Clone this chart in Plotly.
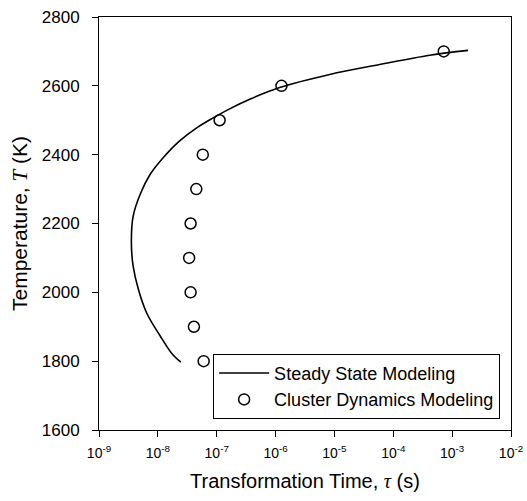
import plotly.graph_objects as go

# Steady state modeling curve (temperature K, log10 of tau in s)
ss_T = [1797, 1824, 1873, 1940, 2008, 2076, 2144, 2221, 2285, 2343, 2391,
        2440, 2478, 2507, 2533, 2561, 2595, 2633, 2662, 2689, 2703]
ss_logtau = [-7.61, -7.77, -7.96, -8.19, -8.33, -8.42, -8.45, -8.42, -8.30, -8.13, -7.91,
             -7.63, -7.34, -7.06, -6.78, -6.44, -5.93, -5.08, -4.23, -3.38, -2.73]

# Cluster dynamics modeling points
cd_T = [1800, 1900, 2000, 2100, 2200, 2300, 2400, 2500, 2600, 2700]
cd_tau = [6.0e-8, 4.1e-8, 3.6e-8, 3.4e-8, 3.6e-8, 4.5e-8, 5.8e-8, 1.12e-7, 1.26e-6, 7.2e-4]

x_tickvals = [1e-9, 1e-8, 1e-7, 1e-6, 1e-5, 1e-4, 1e-3, 1e-2]
x_ticktext = ["10<sup>-9</sup>", "10<sup>-8</sup>", "10<sup>-7</sup>", "10<sup>-6</sup>",
              "10<sup>-5</sup>", "10<sup>-4</sup>", "10<sup>-3</sup>", "10<sup>-2</sup>"]
y_tickvals = [1600, 1800, 2000, 2200, 2400, 2600, 2800]

ss_tau = [10 ** v for v in ss_logtau]

font = "Liberation Sans, Arial, Helvetica, sans-serif"
serif = "Liberation Serif, Times New Roman, serif"

fig = go.Figure()
fig.add_trace(go.Scatter(
    x=ss_tau, y=ss_T, mode="lines", name="Steady State Modeling",
    line=dict(color="black", width=1.6, shape="spline", smoothing=1.0),
))
fig.add_trace(go.Scatter(
    x=cd_tau, y=cd_T, mode="markers", name="Cluster Dynamics Modeling",
    marker=dict(symbol="circle-open", size=11, color="black", line=dict(width=1.5, color="black")),
))

fig.update_layout(
    width=527, height=501,
    margin=dict(l=99, r=16, t=17, b=71),
    paper_bgcolor="white", plot_bgcolor="white",
    font=dict(family=font, color="black", size=15),
    showlegend=True,
    legend=dict(
        x=0.277, y=0.027, xanchor="left", yanchor="bottom",
        bordercolor="black", borderwidth=1, bgcolor="white",
        font=dict(family=font, size=18, color="black"),
        tracegroupgap=0, itemwidth=50,
    ),
    xaxis=dict(
        type="log", range=[-9, -2],
        tickvals=x_tickvals, ticktext=x_ticktext,
        ticks="outside", ticklen=6, tickcolor="black", tickwidth=1,
        showline=True, linecolor="black", linewidth=1, mirror=True,
        showgrid=False, zeroline=False, automargin=False,
        tickfont=dict(family=font, size=14),
        ticklabelstandoff=4,
        title=dict(text="Transformation Time, <span style='font-family:" + serif + "; font-style:italic'>τ</span> (s)",
                   font=dict(family=font, size=20), standoff=14),
    ),
    yaxis=dict(
        range=[1600, 2800],
        tickvals=y_tickvals,
        ticks="outside", ticklen=6, tickcolor="black", tickwidth=1,
        showline=True, linecolor="black", linewidth=1, mirror=True,
        showgrid=False, zeroline=False, automargin=False,
        tickfont=dict(family=font, size=17),
        ticklabelstandoff=9,
        title=dict(text="Temperature, <span style='font-family:" + serif + "; font-style:italic'>T</span> (K)",
                   font=dict(family=font, size=21), standoff=8),
    ),
)

fig.write_html("out.html")
